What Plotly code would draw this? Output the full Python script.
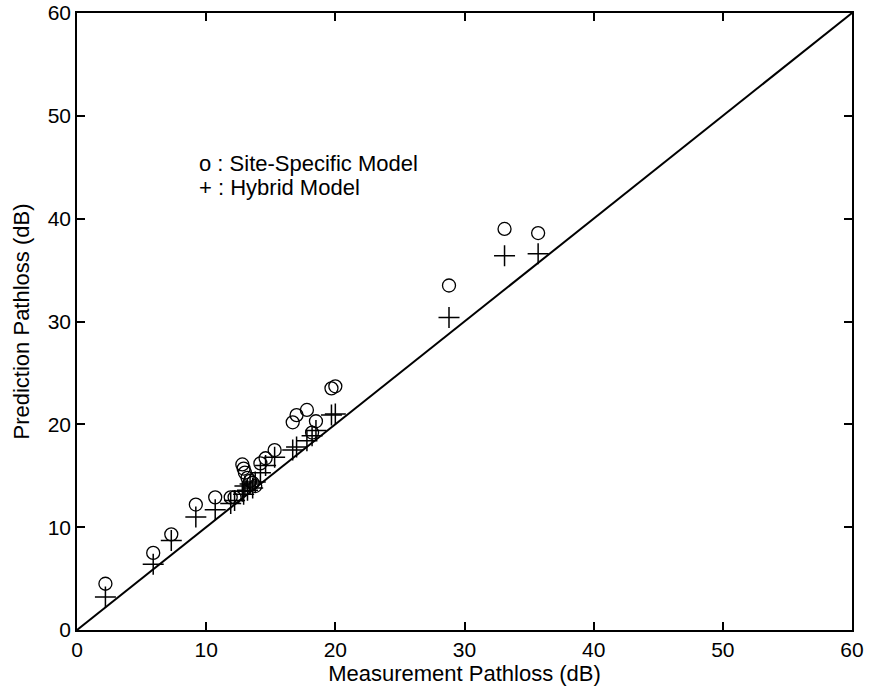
import plotly.graph_objects as go

measurement = [2.2, 5.9, 7.3, 9.2, 10.7, 11.9, 12.2, 12.8, 12.9, 13.0, 13.2, 13.4, 13.6, 13.8,
               14.2, 14.6, 15.3, 16.7, 17.0, 17.8, 18.2, 18.5, 19.7, 20.0, 28.8, 33.1, 35.7]
site_specific = [4.5, 7.5, 9.3, 12.2, 12.9, 12.9, 12.9, 16.1, 15.7, 15.3, 14.8, 14.5, 14.3, 14.0,
                 16.2, 16.7, 17.5, 20.2, 20.9, 21.4, 19.2, 20.3, 23.5, 23.7, 33.5, 39.0, 38.6]
hybrid = [3.2, 6.4, 8.7, 11.0, 11.7, 12.3, 12.6, 13.5, 13.2, 14.0, 13.6, 14.2, 13.8, 14.4,
          15.3, 16.0, 16.8, 17.5, 17.8, 18.4, 18.9, 19.4, 20.9, 21.0, 30.4, 36.4, 36.6]
ideal_x = [0, 60]
ideal_y = [0, 60]
ticks = [0, 10, 20, 30, 40, 50, 60]

fig = go.Figure()
fig.add_trace(go.Scatter(x=ideal_x, y=ideal_y, mode="lines",
                         line=dict(color="black", width=2), showlegend=False))
fig.add_trace(go.Scatter(x=measurement, y=site_specific, mode="markers",
                         marker=dict(symbol="circle-open", size=13, color="black",
                                     line=dict(width=1.3, color="black")),
                         showlegend=False))
fig.add_trace(go.Scatter(x=measurement, y=hybrid, mode="markers",
                         marker=dict(symbol="cross-thin-open", size=15, color="black",
                                     line=dict(width=1.5, color="black")),
                         showlegend=False))

font_family = "Liberation Sans, Arial, sans-serif"
axis_common = dict(range=[0, 60], tickvals=ticks, ticks="inside", ticklen=8, tickwidth=1.5,
                   tickcolor="black", showline=True, linecolor="black", linewidth=1.6,
                   mirror="ticks", showgrid=False, zeroline=False, automargin=False,
                   tickfont=dict(family=font_family, size=21, color="black"))
fig.update_xaxes(**axis_common,
                 title=dict(text="Measurement Pathloss (dB)", standoff=6,
                            font=dict(family=font_family, size=22, color="black")))
fig.update_yaxes(**axis_common,
                 title=dict(text="Prediction Pathloss (dB)", standoff=12,
                            font=dict(family=font_family, size=22, color="black")))

fig.add_annotation(x=9.3, y=45.4, xref="x", yref="y", text="o : Site-Specific Model",
                   showarrow=False, xanchor="left", yanchor="middle",
                   font=dict(family=font_family, size=22, color="black"))
fig.add_annotation(x=9.3, y=43.0, xref="x", yref="y", text="+ : Hybrid Model",
                   showarrow=False, xanchor="left", yanchor="middle",
                   font=dict(family=font_family, size=22, color="black"))

fig.update_layout(width=869, height=696, margin=dict(l=77, r=17, t=13, b=66),
                  plot_bgcolor="white", paper_bgcolor="white", showlegend=False)

fig.write_html("out.html")
